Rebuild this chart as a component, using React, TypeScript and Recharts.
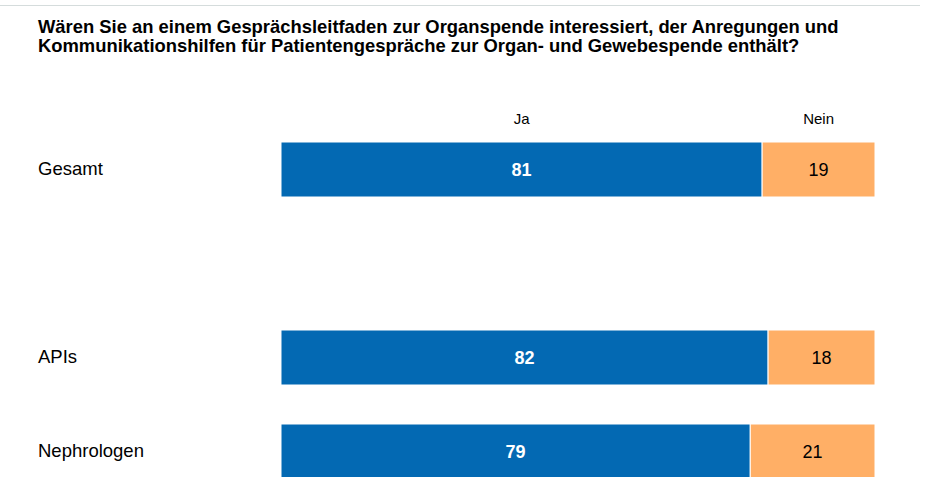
import { BarChart, Bar, XAxis, YAxis, LabelList } from "recharts";

const categories = ["Gesamt", "", "APIs", "Nephrologen"];
const jaValues = [81, null, 82, 79];
const neinValues = [19, null, 18, 21];
const seriesNames = ["Ja", "Nein"];

const TITLE =
  "Wären Sie an einem Gesprächsleitfaden zur Organspende interessiert, der Anregungen und Kommunikationshilfen für Patientengespräche zur Organ- und Gewebespende enthält?";

const FONT = "'Liberation Sans', Arial, sans-serif";
const BLUE = "#0369B3";
const ORANGE = "#FFAF66";

const data = categories.map((name, i) => ({
  name,
  ja: jaValues[i],
  nein: neinValues[i],
}));

function CategoryTick(props: any) {
  const { y, payload } = props;
  if (!payload.value) return null;
  return (
    <text x={38} y={y} dy={6} fontSize={18.5} fill="#000" fontFamily={FONT} textAnchor="start">
      {payload.value}
    </text>
  );
}

// series header ("Ja" / "Nein") drawn above the first bar only
function headerLabel(title: string) {
  return (props: any) => {
    const { x, y, width, index } = props;
    if (index !== 0) return null;
    return (
      <text x={x + width / 2} y={y - 18} fontSize={15} fill="#000" fontFamily={FONT} textAnchor="middle">
        {title}
      </text>
    );
  };
}

export default function App() {
  return (
    <div style={{ position: "absolute", left: 0, top: 0, width: 925, height: 477, overflow: "hidden", background: "#fff" }}>
      <div style={{ position: "absolute", left: 0, top: 5, width: 920, height: 1, background: "#D5DCDC" }} />
      <div
        style={{
          position: "absolute",
          left: 38,
          top: 17,
          width: 850,
          fontFamily: FONT,
          fontWeight: "bold",
          fontSize: 18.4,
          lineHeight: "19px",
          color: "#000",
        }}
      >
        {TITLE}
      </div>
      <BarChart
        width={925}
        height={520}
        data={data}
        layout="vertical"
        margin={{ top: 122, right: 50, bottom: 22, left: 0 }}
        barSize={55}
      >
        <XAxis type="number" domain={[0, 100]} hide />
        <YAxis
          type="category"
          dataKey="name"
          width={281}
          axisLine={false}
          tickLine={false}
          tick={<CategoryTick />}
          interval={0}
        />
        <Bar dataKey="ja" stackId="a" fill={BLUE} stroke="#fff" strokeWidth={1} isAnimationActive={false}>
          <LabelList dataKey="ja" position="center" fill="#fff" fontSize={18} fontWeight="bold" fontFamily={FONT} />
          <LabelList dataKey="ja" content={headerLabel(seriesNames[0])} />
        </Bar>
        <Bar dataKey="nein" stackId="a" fill={ORANGE} stroke="#fff" strokeWidth={1} isAnimationActive={false}>
          <LabelList dataKey="nein" position="center" fill="#000" fontSize={18} fontFamily={FONT} />
          <LabelList dataKey="nein" content={headerLabel(seriesNames[1])} />
        </Bar>
      </BarChart>
    </div>
  );
}
